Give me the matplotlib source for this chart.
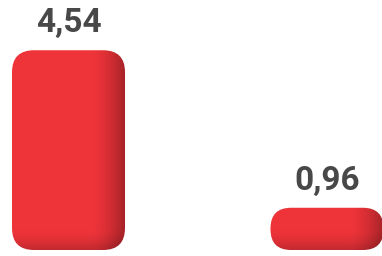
import numpy as np
import matplotlib
matplotlib.use("Agg")
import matplotlib.pyplot as plt
from matplotlib.patches import FancyBboxPatch

categories = ["A", "B"]
values = [4.54, 0.96]
labels = ["4,54", "0,96"]

W, H = 382, 256
fig = plt.figure(figsize=(W / 100, H / 100), dpi=100)
ax = fig.add_axes([0, 0, 1, 1])
ax.set_axis_off()

px_y = 44.0      # pixels per unit in y
px_x = 258.5     # pixels per unit in x
y0 = 6.0
x0 = 68.5
ax.set_xlim(-x0 / px_x, (W - x0) / px_x)
ax.set_ylim(-y0 / px_y, (H - y0) / px_y)

bar_w_px = 113.0
bw = bar_w_px / px_x
aspect = px_x / px_y

base = np.array([0.937, 0.204, 0.227])
dark = np.array([0.62, 0.13, 0.15])

for i, (v, lab) in enumerate(zip(values, labels)):
    x = i
    h_px = v * px_y
    r_px = min(22.0, h_px / 2 - 0.5)
    r = r_px / px_x
    patch = FancyBboxPatch((x - bw / 2, 0), bw, v,
                           boxstyle=f"round,pad=0,rounding_size={r}",
                           mutation_aspect=aspect,
                           facecolor="none", edgecolor="none")
    ax.add_patch(patch)
    nx, ny = 200, 200
    u = np.linspace(0, 1, nx)[None, :]
    t = np.linspace(0, 1, ny)[:, None]  # 0 bottom,1 top
    sx = np.clip((u - 0.70) / 0.30, 0, 1) ** 1.6
    dist_b = t * h_px
    sb = np.clip(1 - dist_b / 22.0, 0, 1) ** 1.8
    s = np.clip(sx * 0.9 + sb * 0.55, 0, 1)
    img = base[None, None, :] * (1 - s[..., None]) + dark[None, None, :] * s[..., None]
    im = ax.imshow(img, extent=(x - bw / 2, x + bw / 2, 0, v), origin="lower",
                   aspect="auto", interpolation="bilinear", zorder=2)
    im.set_clip_path(patch)
    ax.text(x, v + 18 / px_y, lab, ha="center", va="baseline",
            fontsize=24, fontweight="bold", family="Roboto", color="#484848")

fig.savefig("out.png", dpi=100)
